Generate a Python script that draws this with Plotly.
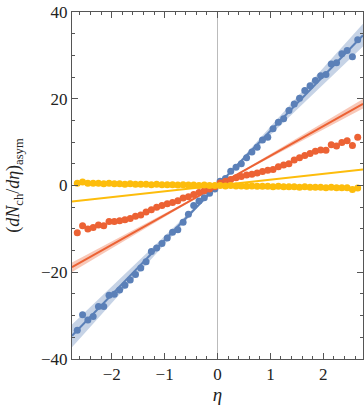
import plotly.graph_objects as go
import numpy as np

# ---- data ----
eta = [round(-2.65 + 0.1 * i, 2) for i in range(54)]

blue_vals = [-33.4, -29.8, -31.0, -30.2, -27.9, -27.9, -25.3, -25.1, -24.1, -23.0,
             -21.8, -20.5, -19.0, -17.6, -15.2, -14.4, -13.4, -12.1, -10.8, -10.2,
             -8.5, -6.6, -4.6, -3.6, -2.8, -1.8, -0.8,
             1.0, 1.6, 3.3, 4.2, 5.0, 6.4, 7.7, 8.8, 10.5, 11.1,
             13.1, 14.6, 15.4, 17.3, 18.8, 20.1, 21.9, 23.0, 24.2, 25.3,
             25.6, 28.0, 28.3, 30.4, 31.1, 29.7, 33.6]

orange_vals = [-10.9, -9.3, -10.0, -9.7, -9.1, -9.3, -8.3, -8.3, -8.1, -7.9,
               -7.6, -7.1, -6.8, -6.1, -5.6, -5.0, -4.6, -4.2, -3.9, -3.5,
               -2.9, -2.6, -2.1, -1.6, -1.2, -0.8, -0.3,
               0.6, 1.0, 1.4, 1.8, 2.1, 2.4, 2.6, 2.9, 3.2, 3.5,
               3.7, 4.3, 4.7, 5.0, 5.9, 6.4, 6.9, 7.4, 7.9, 8.2,
               8.1, 9.4, 9.1, 9.9, 10.3, 9.2, 11.1]

yellow_vals = [0.5, 0.8, 0.5, 0.5, 0.5, 0.4, 0.5, 0.4, 0.4, 0.3,
               0.4, 0.3, 0.3, 0.3, 0.2, 0.3, 0.2, 0.2, 0.2, 0.1,
               0.2, 0.1, 0.1, 0.0, 0.1, 0.0, 0.0,
               0.0, -0.1, 0.0, -0.1, -0.1, -0.2, -0.1, -0.2, -0.2, -0.2,
               -0.3, -0.2, -0.3, -0.3, -0.3, -0.4, -0.3, -0.4, -0.4, -0.4,
               -0.5, -0.4, -0.5, -0.5, -0.5, -0.9, -0.6]

# linear fits (slope, slope uncertainty)
fit_slopes = [12.6, 6.85, 1.35]
fit_errors = [0.95, 0.4, 0.04]

series_colors = ["#5B80B8", "#EC6234", "#FDBD0C"]
band_colors = ["rgba(91,128,184,0.35)", "rgba(236,98,52,0.35)", "rgba(253,189,12,0.35)"]

x_range = [-2.75, 2.75]
y_range = [-40, 40]
x_ticks = [-2, -1, 0, 1, 2]
y_ticks = [-40, -20, 0, 20, 40]

fig = go.Figure()

xl = np.array([x_range[0], 0.0, x_range[1]])
series = [blue_vals, orange_vals, yellow_vals]

# bands
for a, s, bc in zip(fit_slopes, fit_errors, band_colors):
    upper = np.maximum((a + s) * xl, (a - s) * xl)
    lower = np.minimum((a + s) * xl, (a - s) * xl)
    fig.add_trace(go.Scatter(x=list(xl) + list(xl[::-1]),
                             y=list(upper) + list(lower[::-1]),
                             fill="toself", fillcolor=bc, line=dict(width=0),
                             mode="lines", hoverinfo="skip", showlegend=False))

# fit lines
for a, c in zip(fit_slopes, series_colors):
    fig.add_trace(go.Scatter(x=list(xl), y=list(a * xl), mode="lines",
                             line=dict(color=c, width=2), showlegend=False))

# points
for vals, c in zip(series, series_colors):
    fig.add_trace(go.Scatter(x=eta, y=vals, mode="markers",
                             marker=dict(color=c, size=7, line=dict(width=0)),
                             showlegend=False))

serif = "Liberation Serif, Times New Roman, serif"
axis_font = dict(family=serif, size=17, color="#222")

fig.update_xaxes(range=x_range, tickvals=x_ticks,
                 ticktext=["\u22122", "\u22121", "0", "1", "2"],
                 ticks="inside", ticklen=6, tickwidth=1, tickcolor="#555",
                 minor=dict(dtick=0.2, ticks="inside", ticklen=3, tickcolor="#555"),
                 showline=True, linecolor="#555", linewidth=1, mirror="ticks",
                 showgrid=False, zeroline=True, zerolinecolor="#BBBBBB", zerolinewidth=1,
                 tickfont=axis_font, automargin=False,
                 title=dict(text="<i>\u03b7</i>", font=dict(family=serif, size=19, color="#222"),
                            standoff=3))
fig.update_yaxes(range=y_range, tickvals=y_ticks,
                 ticktext=["\u221240", "\u221220", "0", "20", "40"],
                 ticks="inside", ticklen=6, tickwidth=1, tickcolor="#555",
                 minor=dict(dtick=5, ticks="inside", ticklen=3, tickcolor="#555"),
                 showline=True, linecolor="#555", linewidth=1, mirror="ticks",
                 showgrid=False, zeroline=False,
                 tickfont=axis_font, automargin=False,
                 title=dict(text="(<i>dN</i><sub>ch</sub>/<i>d\u03b7</i>)<sub>asym</sub>",
                            font=dict(family=serif, size=18, color="#222"),
                            standoff=16))

fig.update_layout(width=364, height=414,
                  margin=dict(l=72, r=1, t=12, b=55),
                  paper_bgcolor="white", plot_bgcolor="white",
                  showlegend=False)

# remove the default 8px page margin so the figure fills the window exactly
fig.write_html("out.html", config={"displayModeBar": False},
               post_script="document.body.style.margin='0';")
